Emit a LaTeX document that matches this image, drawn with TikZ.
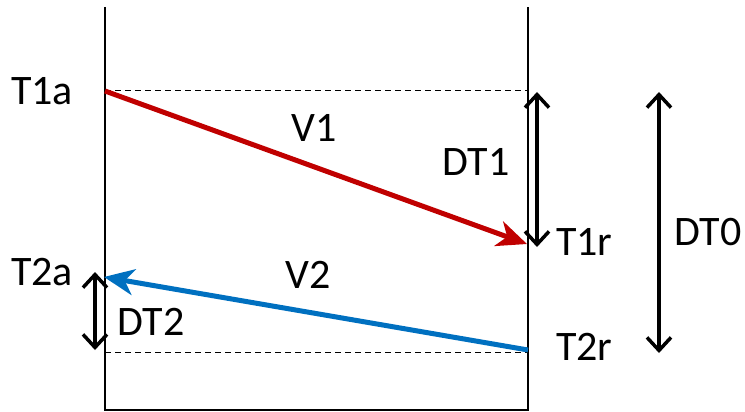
\documentclass[tikz,border=0pt]{standalone}
\usepackage{fontspec}
\setmainfont{Carlito}
\usetikzlibrary{arrows.meta}

\definecolor{msgred}{RGB}{192,0,0}
\definecolor{msgblue}{RGB}{0,112,192}

\tikzset{
  lbl/.style={font=\fontsize{42}{50}\selectfont, inner sep=0pt, anchor=base west},
  wall/.style={line width=1.5pt},
  guide/.style={line width=1pt, dash pattern=on 6pt off 4pt},
  span/.style={line width=3.5pt, {Straight Barb[length=13pt,width=24pt]}-{Straight Barb[length=13pt,width=24pt]}},
  msg/.style={line width=5pt, -{Stealth[length=30pt,width=26pt,inset=9pt]}},
}

\begin{document}
\begin{tikzpicture}[x=1pt, y=-1pt]

\useasboundingbox (0,0) rectangle (745,412);

% walls of the two stations
\coordinate (aTop) at (105,7);
\coordinate (aBot) at (105,410);
\coordinate (rTop) at (528,7);
\coordinate (rBot) at (528,410);
\draw[wall] (aTop) -- (aBot) -- (rBot) -- (rTop);

% time marks
\coordinate (t1a) at (105,91);
\coordinate (t1aR) at (528,91);
\coordinate (t1r) at (527,244);
\coordinate (t2a) at (104,277);
\coordinate (t2r) at (528,350);
\coordinate (t2rL) at (105,352);
\coordinate (t2rR) at (528,352);
\draw[guide] (t1a) -- (t1aR);
\draw[guide] (t2rL) -- (t2rR);

% the two messages
\draw[msg, msgred] (t1a) -- (t1r);
\draw[msg, msgblue] (t2r) -- (t2a);

% intervals
\coordinate (dt1Top) at (537,92);
\coordinate (dt1Bot) at (537,247);
\coordinate (dt0Top) at (659,92);
\coordinate (dt0Bot) at (659,353);
\coordinate (dt2Top) at (95,272);
\coordinate (dt2Bot) at (95,350);
\draw[span] (dt1Top) -- (dt1Bot);
\draw[span] (dt0Top) -- (dt0Bot);
\draw[span] (dt2Top) -- (dt2Bot);

% labels
\node[lbl] (lT1a) at (11,104) {T1a};
\node[lbl] (lT2a) at (11,285) {T2a};
\node[lbl] (lT1r) at (556,255) {T1r};
\node[lbl] (lT2r) at (556,360) {T2r};
\node[lbl] (lV1) at (291,142) {V1};
\node[lbl] (lV2) at (285,288) {V2};
\node[lbl] (lDT1) at (442,175) {DT1};
\node[lbl] (lDT2) at (117,335) {DT2};
\node[lbl] (lDT0) at (674,245) {DT0};

\end{tikzpicture}
\end{document}
